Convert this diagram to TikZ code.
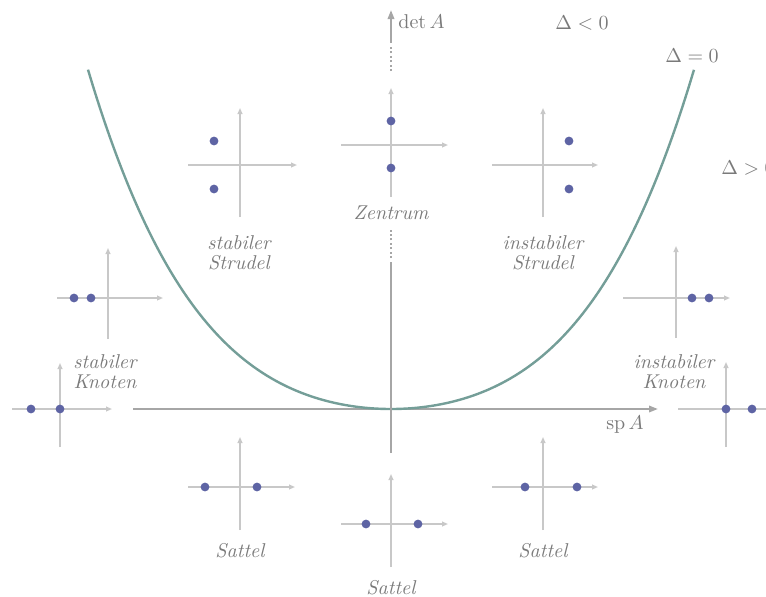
\documentclass[tikz,border=0pt]{standalone}
\usetikzlibrary{arrows.meta}
\definecolor{axgray}{HTML}{A6A6A6}
\definecolor{smallgray}{HTML}{C8C8C8}
\definecolor{curvecol}{HTML}{749E98}
\definecolor{dotcol}{HTML}{5E64A4}
\definecolor{txtgray}{HTML}{7A7A7A}
\newcommand\smallaxes[6]{%
  \draw[smallax] (#1-#3,#2) -- (#1+#4,#2);
  \draw[smallax] (#1,#2+#6) -- (#1,#2-#5);}
\begin{document}
\begin{tikzpicture}[x=0.5pt,y=-0.5pt,
  smallax/.style={draw=smallgray,line width=0.7pt,-{Triangle[length=3pt,width=2.4pt]}},
  mainax/.style={draw=axgray,line width=1pt},
  eig/.style={circle,fill=dotcol,inner sep=0pt,minimum size=4.4pt},
  lbl/.style={text=txtgray,font=\itshape,align=center,inner sep=0pt},
  mlbl/.style={text=txtgray,inner sep=0pt}]
\useasboundingbox (0,0) rectangle (766,596);
% main axes
\coordinate (O) at (391,409);
\coordinate (xs) at (133,409);
\coordinate (xe) at (658,409);
\coordinate (ys) at (391,453);
\coordinate (y1) at (391,262);
\coordinate (d1a) at (391,258);
\coordinate (d1b) at (391,230);
\coordinate (d2a) at (391,71);
\coordinate (d2b) at (391,47);
\coordinate (ystart) at (391,43);
\coordinate (ye) at (391,10);
\draw[mainax,-{Triangle[length=4.5pt,width=3.2pt]}] (xs) -- (xe);
% curve Delta = 0
\draw[curvecol,line width=1.2pt] plot[domain=-3.03:3.03,samples=140,smooth] ({391+100*\x},{409-18.6*\x*\x-2.0*\x*\x*\x*\x});
\draw[mainax] (ys) -- (y1);
\draw[mainax,line width=0.9pt,dash pattern=on 1pt off 1.2pt] (d1a) -- (d1b);
\draw[mainax,line width=0.9pt,dash pattern=on 1pt off 1.2pt] (d2a) -- (d2b);
\draw[mainax,-{Triangle[length=4.5pt,width=3.2pt]}] (ystart) -- (ye);
% axis labels
\node[mlbl,anchor=west] (detA) at (398,22) {$\det A$};
\node[mlbl] (spA) at (625,425) {$\mathrm{sp}\,A$};
\node[mlbl] (dlt) at (582,23) {$\Delta < 0$};
\node[mlbl] (deq) at (692,56) {$\Delta = 0$};
\node[mlbl,anchor=west] (dgt) at (721,168) {$\Delta > 0$};
% stabiler Strudel
\smallaxes{240}{165}{52}{57}{57}{52}
\node[eig] (e1) at (214,141) {};
\node[eig] (e2) at (214,189) {};
\node[lbl] (l1) at (239,253) {stabiler\\[-2pt]Strudel};
% Zentrum
\smallaxes{391}{145}{50}{57}{57}{52}
\node[eig] (e3) at (391,121) {};
\node[eig] (e4) at (391,168) {};
\node[lbl] (l2) at (391,213) {Zentrum};
% instabiler Strudel
\smallaxes{543}{165}{51}{55}{57}{52}
\node[eig] (e5) at (569,141) {};
\node[eig] (e6) at (569,189) {};
\node[lbl] (l3) at (543,253) {instabiler\\[-2pt]Strudel};
% stabiler Knoten
\smallaxes{108}{298}{51}{55}{50}{41}
\node[eig] (e7) at (74,298) {};
\node[eig] (e8) at (91,298) {};
\node[lbl] (l4) at (105,372) {stabiler\\[-2pt]Knoten};
\smallaxes{60}{409}{48}{52}{46}{38}
\node[eig] (e9) at (31,409) {};
\node[eig] (e10) at (60,409) {};
% instabiler Knoten
\smallaxes{676}{298}{53}{54}{52}{40}
\node[eig] (e11) at (692,298) {};
\node[eig] (e12) at (709,298) {};
\node[lbl] (l5) at (674,372) {instabiler\\[-2pt]Knoten};
\smallaxes{726}{409}{48}{52}{47}{38}
\node[eig] (e13) at (726,409) {};
\node[eig] (e14) at (752,409) {};
% Sattel
\smallaxes{240}{487}{52}{55}{50}{43}
\node[eig] (e15) at (205,487) {};
\node[eig] (e16) at (257,487) {};
\node[lbl] (l6) at (240,551) {Sattel};
\smallaxes{391}{524}{50}{57}{50}{43}
\node[eig] (e17) at (366,524) {};
\node[eig] (e18) at (418,524) {};
\node[lbl] (l7) at (391,588) {Sattel};
\smallaxes{543}{487}{51}{55}{50}{43}
\node[eig] (e19) at (525,487) {};
\node[eig] (e20) at (577,487) {};
\node[lbl] (l8) at (543,551) {Sattel};
\end{tikzpicture}
\end{document}
